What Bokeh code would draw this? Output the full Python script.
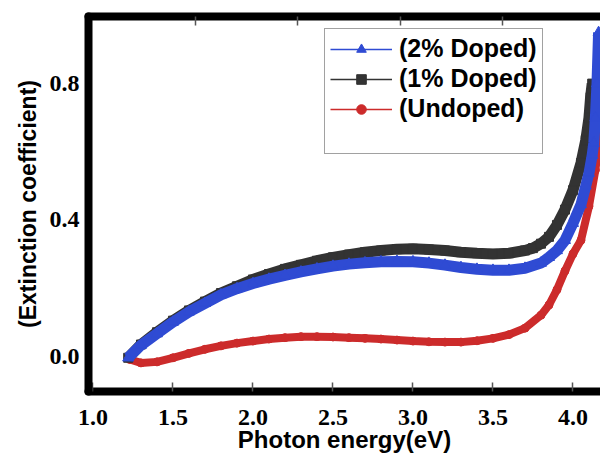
from bokeh.plotting import figure
from bokeh.models import (Range1d, FixedTicker, LinearAxis, Legend, LegendItem,
                          NumeralTickFormatter)
from bokeh.embed import file_html
from bokeh.resources import INLINE

# ---------------- data ----------------
x_2pct = [1.22, 1.30, 1.40, 1.50, 1.60, 1.70, 1.80, 1.90, 2.00, 2.10, 2.20, 2.30,
          2.40, 2.50, 2.60, 2.70, 2.80, 2.90, 3.00, 3.10, 3.20, 3.30, 3.40, 3.50,
          3.60, 3.70, 3.80, 3.85, 3.90, 3.95, 4.00, 4.05, 4.08, 4.10, 4.12, 4.13,
          4.14, 4.15, 4.16]
y_2pct = [-0.005, 0.032, 0.066, 0.100, 0.130, 0.155, 0.180, 0.198, 0.213, 0.226,
          0.237, 0.247, 0.256, 0.264, 0.270, 0.274, 0.277, 0.278, 0.277, 0.273,
          0.267, 0.260, 0.255, 0.252, 0.252, 0.258, 0.273, 0.290, 0.310, 0.340,
          0.390, 0.445, 0.500, 0.537, 0.590, 0.625, 0.700, 0.800, 0.950]

x_1pct = [1.22, 1.30, 1.40, 1.50, 1.60, 1.70, 1.80, 1.90, 2.00, 2.10, 2.20, 2.30,
          2.40, 2.50, 2.60, 2.70, 2.80, 2.90, 3.00, 3.10, 3.20, 3.30, 3.40, 3.50,
          3.60, 3.70, 3.75, 3.80, 3.85, 3.90, 3.95, 4.00, 4.05, 4.08, 4.10, 4.11,
          4.12]
y_1pct = [-0.005, 0.034, 0.070, 0.104, 0.134, 0.160, 0.185, 0.205, 0.225, 0.241,
          0.256, 0.268, 0.280, 0.290, 0.298, 0.305, 0.310, 0.314, 0.315, 0.313,
          0.310, 0.305, 0.302, 0.300, 0.302, 0.310, 0.317, 0.330, 0.350, 0.385,
          0.430, 0.487, 0.567, 0.634, 0.700, 0.760, 0.800]

x_undoped = [1.23, 1.30, 1.40, 1.50, 1.60, 1.70, 1.80, 1.90, 2.00, 2.10, 2.20,
             2.30, 2.40, 2.50, 2.60, 2.70, 2.80, 2.90, 3.00, 3.10, 3.20, 3.30,
             3.40, 3.50, 3.60, 3.70, 3.80, 3.85, 3.90, 3.95, 4.00, 4.05, 4.10,
             4.14, 4.16, 4.17]
y_undoped = [-0.010, -0.020, -0.017, -0.005, 0.008, 0.020, 0.030, 0.038, 0.044,
             0.050, 0.054, 0.057, 0.057, 0.056, 0.054, 0.052, 0.050, 0.047, 0.044,
             0.042, 0.041, 0.041, 0.045, 0.052, 0.063, 0.082, 0.120, 0.150, 0.195,
             0.250, 0.300, 0.340, 0.440, 0.546, 0.625, 0.680]

series_labels = ["(2% Doped)", "(1% Doped)", "(Undoped)"]
x_ticks = [1.0, 1.5, 2.0, 2.5, 3.0, 3.5, 4.0]
y_ticks = [0.0, 0.4, 0.8]
top_ticks = [1.64, 2.28, 2.92, 3.56]

BLUE = "#2f4bd3"
BLACK = "#333333"
RED = "#cc2b2b"

p = figure(width=600, height=456, output_backend="svg", toolbar_location=None,
           x_range=Range1d(0.972, 4.172), y_range=Range1d(-0.104, 0.997),
           min_border_left=88, min_border_right=0, min_border_top=16,
           min_border_bottom=65, x_axis_location=None, y_axis_location=None)
p.outline_line_color = None
p.grid.visible = False
p.background_fill_color = "white"
p.border_fill_color = "white"

# ---------------- axes ----------------
xb = LinearAxis(ticker=FixedTicker(ticks=x_ticks),
                formatter=NumeralTickFormatter(format="0.0"),
                axis_label="Photon energy(eV)")
yl = LinearAxis(ticker=FixedTicker(ticks=y_ticks),
                formatter=NumeralTickFormatter(format="0.0"),
                axis_label="(Extinction coefficient)")
xt = LinearAxis(ticker=FixedTicker(ticks=top_ticks))
for ax in (xb, yl, xt):
    ax.axis_line_width = 8
    ax.axis_line_color = "black"
    ax.axis_line_cap = "round"
    ax.minor_tick_line_color = None
    ax.major_tick_out = 0
    ax.major_tick_line_color = "#555555"
    ax.major_tick_line_width = 1.5
    ax.major_label_text_font = "Liberation Serif"
    ax.major_label_text_font_style = "bold"
    ax.major_label_text_font_size = "24px"
    ax.major_label_text_color = "black"
    ax.axis_label_text_font = "Liberation Sans"
    ax.axis_label_text_font_style = "bold"
    ax.axis_label_text_font_size = "23px"
    ax.axis_label_text_color = "black"
xb.major_tick_in = 9
xb.major_label_standoff = 18
xb.axis_label_standoff = -2
xb.axis_label_text_font_size = "24px"
yl.major_tick_in = 0
yl.major_label_standoff = 9
yl.axis_label_standoff = 6
xt.major_tick_in = 9
xt.major_label_text_font_size = "0px"
xt.major_label_text_color = None
xt.major_label_standoff = 0
p.add_layout(xb, "below")
p.add_layout(yl, "left")
p.add_layout(xt, "above")

# ---------------- data ----------------
thin = {}
for key, xs, ys, col in [("u", x_undoped, y_undoped, RED),
                         ("b", x_1pct, y_1pct, BLACK),
                         ("t", x_2pct, y_2pct, BLUE)]:
    thin[key] = p.line(xs, ys, line_color=col, line_width=1.5)

p.line(x_undoped, y_undoped, line_color=RED, line_width=8)
s_u = p.scatter(x_undoped, y_undoped, marker="circle", size=8, color=RED)
p.line(x_1pct, y_1pct, line_color=BLACK, line_width=11)
s_b = p.scatter(x_1pct, y_1pct, marker="square", size=9, color=BLACK)
p.line(x_2pct, y_2pct, line_color=BLUE, line_width=11)
s_t = p.scatter(x_2pct, y_2pct, marker="triangle", size=11, color=BLUE)

# ---------------- legend ----------------
items = [LegendItem(label=series_labels[0], renderers=[thin["t"], s_t]),
         LegendItem(label=series_labels[1], renderers=[thin["b"], s_b]),
         LegendItem(label=series_labels[2], renderers=[thin["u"], s_u])]
blank = p.line([], [], line_alpha=0)
items.append(LegendItem(label=" ", renderers=[blank]))

leg = Legend(items=items, location=(236, 237), orientation="vertical")
leg.label_text_font = "Liberation Sans"
leg.label_text_font_style = "bold"
leg.label_text_font_size = "25px"
leg.label_text_color = "black"
leg.glyph_width = 62
leg.glyph_height = 24
leg.label_height = 24
leg.label_standoff = 7
leg.spacing = 1
leg.padding = 5
leg.margin = 0
leg.border_line_color = "#444444"
leg.border_line_width = 1.5
leg.background_fill_color = "white"
leg.background_fill_alpha = 1.0
p.add_layout(leg, "center")

open("out.html", "w").write(file_html(p, INLINE))
